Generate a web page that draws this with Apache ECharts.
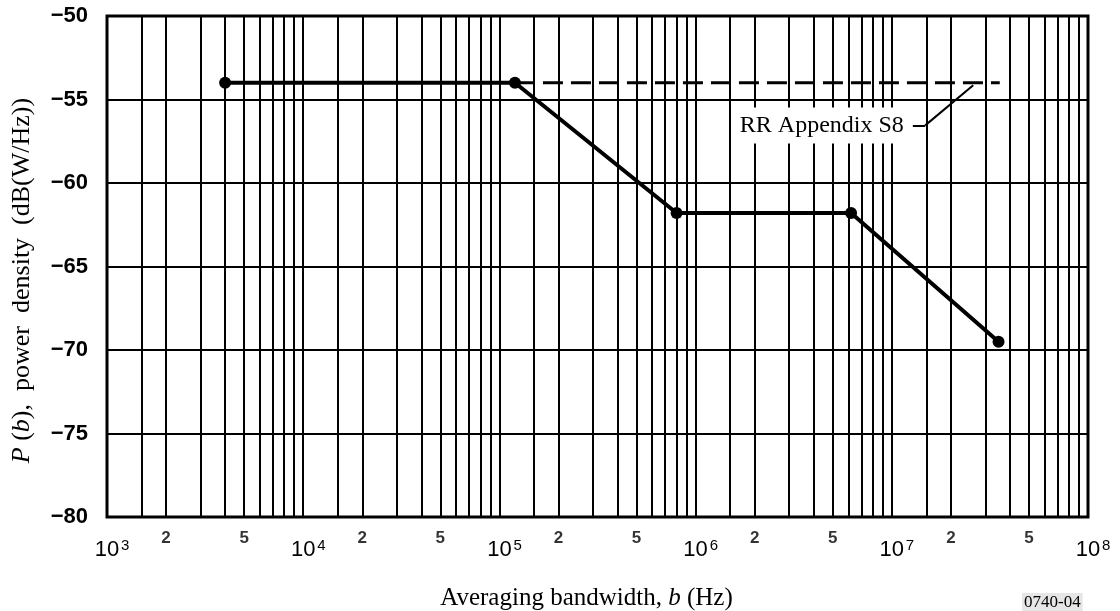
<!DOCTYPE html>
<html><head><meta charset="utf-8">
<script src="https://cdn.jsdelivr.net/npm/echarts@6/dist/echarts.min.js"></script>
<style>html,body{margin:0;padding:0;background:#fff}#chart{width:1120px;height:611px}</style>
</head><body><div id="chart"></div>
<script>
// Main limit curve
const bandwidthHz = [4000, 1.2e5, 8.0e5, 6.2e6, 3.5e7];
const densityDb = [-54, -54, -61.8, -61.8, -69.5];
// RR Appendix S8 (dashed)
const rrBandwidthHz = [1.2e5, 3.55e7];
const rrDensityDb = [-54, -54];
// Axis / grid definition
const decadeExponents = [3, 4, 5, 6, 7];
const gridMultipliers = [1, 1.5, 2, 3, 4, 5, 6, 7, 8, 9];
const minorLabelMultipliers = [2, 5];
// Annotation leader (data coordinates)
const annotationText = 'RR Appendix S8';
const leaderBandwidth = [1.28e7, 1.48e7, 2.6e7];
const leaderDensity = [-56.55, -56.55, -54.15];

const gridValues = [];
decadeExponents.forEach(e => gridMultipliers.forEach(m => { if (m !== 1 || e !== 3) gridValues.push(m * Math.pow(10, e)); }));
const minorLabels = [];
decadeExponents.forEach(e => minorLabelMultipliers.forEach(m => minorLabels.push({ value: [m * Math.pow(10, e), -80], name: String(m) })));

const chart = echarts.init(document.getElementById('chart'), null, { renderer: 'canvas' });
const serif = 'Liberation Serif';
const sans = 'Liberation Sans';

chart.setOption({
  animation: false,
  backgroundColor: '#fff',
  grid: { left: 107, right: 32, top: 16, bottom: 94, containLabel: false, outerBoundsMode: 'none',
    show: true, borderColor: '#000', borderWidth: 3, backgroundColor: 'transparent' },
  xAxis: {
    type: 'log', logBase: 10, min: 1e3, max: 1e8,
    axisLine: { show: false }, axisTick: { show: false }, splitLine: { show: false },
    axisLabel: {
      margin: 21, showMinLabel: true, showMaxLabel: true, hideOverlap: false,
      padding: [0, 0, 0, 12],
      formatter: v => '{b|10}{s|' + Math.round(Math.log10(v)) + '}',
      rich: {
        b: { fontSize: 22, fontFamily: sans, lineHeight: 24, color: '#000' },
        s: { fontSize: 15, fontFamily: sans, lineHeight: 15, verticalAlign: 'top', width: 12, align: 'left', color: '#000' }
      }
    },
    name: 'Averaging bandwidth, {i|b} (Hz)', nameLocation: 'middle', nameGap: 69,
    nameTextStyle: { fontFamily: serif, fontSize: 25, color: '#000', padding: [0, 22, 0, 0],
      rich: { i: { fontStyle: 'italic', fontFamily: serif, fontSize: 25, color: '#000' } } }
  },
  yAxis: {
    type: 'value', min: -80, max: -50, interval: 5,
    axisLine: { show: false }, axisTick: { show: false },
    splitLine: { show: true, lineStyle: { color: '#000', width: 2 } },
    axisLabel: { margin: 19, fontSize: 22, fontWeight: 'bold', fontFamily: sans, color: '#000',
      formatter: v => '\u2212' + Math.abs(v) },
    name: '{i|P} ({i|b}),  power  density  (dB(W/Hz))', nameLocation: 'middle', nameGap: 72,
    nameTextStyle: { fontFamily: serif, fontSize: 26, color: '#000', padding: [0, 28, 0, 0],
      rich: { i: { fontStyle: 'italic', fontFamily: serif, fontSize: 26, color: '#000' } } }
  },
  graphic: [{
    type: 'text', left: 1022, top: 593,
    style: { text: '0740-04', font: '17px "Liberation Serif"', fill: '#000', backgroundColor: '#e6e6e6', padding: [1, 2] }
  }],
  series: [
    {
      type: 'scatter', data: minorLabels, symbolSize: 1, itemStyle: { color: 'rgba(0,0,0,0)' }, clip: false, silent: true,
      label: { show: true, position: 'bottom', distance: 12, formatter: p => p.name,
        fontSize: 17, fontWeight: 'bold', fontFamily: sans, color: '#000' },
      markLine: { silent: true, symbol: ['none', 'none'], label: { show: false },
        lineStyle: { color: '#000', width: 2, type: 'solid' },
        data: gridValues.map(v => ({ xAxis: v })) }
    },
    {
      type: 'line', data: rrBandwidthHz.map((x, i) => [x, rrDensityDb[i]]), symbol: 'none', z: 3,
      lineStyle: { color: '#000', width: 3, type: [20, 8] },
      markLine: {
        silent: true, symbol: ['none', 'arrow'], symbolSize: [1, 13],
        lineStyle: { color: '#000', width: 2, type: 'solid' },
        data: [
          [{ coord: [leaderBandwidth[0], leaderDensity[0]], symbol: 'none',
             label: { show: true, position: 'start', formatter: annotationText, distance: 5,
               fontFamily: serif, fontSize: 24, color: '#000', backgroundColor: '#fff', padding: [6, 4] } },
           { coord: [leaderBandwidth[1], leaderDensity[1]], symbol: 'none' }],
          [{ coord: [leaderBandwidth[1], leaderDensity[1]], symbol: 'none', label: { show: false } },
           { coord: [leaderBandwidth[2], leaderDensity[2]], symbol: 'arrow' }]
        ]
      }
    },
    {
      type: 'line', data: bandwidthHz.map((x, i) => [x, densityDb[i]]), z: 4,
      symbol: 'circle', symbolSize: 12, showAllSymbol: true,
      lineStyle: { color: '#000', width: 4 }, itemStyle: { color: '#000' }
    }
  ]
});
</script></body></html>
